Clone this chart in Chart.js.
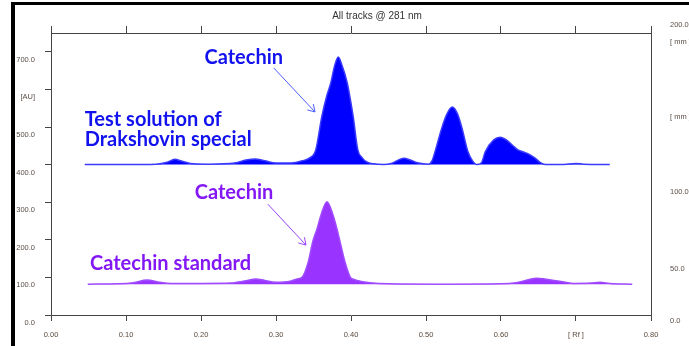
<!DOCTYPE html>
<html>
<head>
<meta charset="utf-8">
<script src="https://cdn.jsdelivr.net/npm/chart.js@4.4.0/dist/chart.umd.min.js"></script>
<style>
    body { margin: 0; background: #fff; }
</style>
</head>
<body>
<canvas id="chart" width="689" height="346"></canvas>
<script>
/* ------------------------------- Data -------------------------------*/

// Test solution of Drakshovin special (Rf / AU)
var sampleRf = [0.045, 0.10, 0.14, 0.155, 0.165, 0.175, 0.19, 0.21, 0.245, 0.26, 0.272, 0.285, 0.30, 0.32,
    0.335, 0.345, 0.353, 0.361, 0.368, 0.373, 0.378, 0.383, 0.388, 0.395, 0.399, 0.403, 0.409, 0.415,
    0.421, 0.43, 0.443, 0.455, 0.465, 0.471, 0.478, 0.49, 0.503, 0.508, 0.512, 0.521, 0.528, 0.535,
    0.542, 0.548, 0.556, 0.562, 0.568, 0.574, 0.579, 0.59, 0.599, 0.607, 0.615, 0.622, 0.629, 0.637,
    0.645, 0.652, 0.659, 0.68, 0.70, 0.71, 0.745];
var sampleAU = [400, 400, 401, 406, 414, 409, 402, 401, 404, 412, 415, 410, 404, 404,
    410, 418, 439, 527, 585, 617, 662, 686, 664, 617, 575, 527, 440, 418,
    407, 402, 400, 404, 414, 417, 413, 404, 401, 410, 434, 497, 535, 553,
    535, 497, 434, 410, 400, 405, 434, 465, 473, 466, 452, 440, 434, 428,
    418, 406, 400, 400, 403, 401, 400];

// Catechin standard (Rf / AU)
var standardRf = [0.049, 0.09, 0.11, 0.128, 0.145, 0.16, 0.20, 0.24, 0.26, 0.273, 0.285, 0.30, 0.319,
    0.328, 0.335, 0.343, 0.349, 0.355, 0.36, 0.368, 0.376, 0.381, 0.386, 0.392, 0.399, 0.405, 0.412,
    0.425, 0.45, 0.52, 0.60, 0.62, 0.635, 0.648, 0.66, 0.68, 0.696, 0.72, 0.732, 0.745, 0.775];
var standardAU = [82, 83, 86, 93, 87, 84, 84, 85, 91, 96, 92, 87, 90,
    96, 101, 141, 195, 231, 266, 301, 266, 231, 190, 141, 101, 94, 90,
    86, 83, 82, 83, 86, 93, 98, 95, 89, 84, 85, 87, 84, 82];

var sampleBase = 400;
var standardBase = 82;

var rfTicks = [0, 0.1, 0.2, 0.3, 0.4, 0.5, 0.6, 0.7, 0.8];
var auTicks = [0, 100, 200, 300, 400, 500, 600, 700];
var mmTickLabels = ['0.0', '50.0', '100.0', '[ mm ]', '[ mm ]', '200.0'];
var mmTickPos = [-16, 122, 327, 527, 726, 771];          // where the mm labels sit on the AU scale

/* ------------------------------- Notes -------------------------------*/

var notes = [
    { text: 'Catechin', rf: 0.257, au: 684, color: '#1212ee', align: 'center' },
    { text: 'Test solution of', rf: 0.045, au: 521, color: '#1212ee', align: 'left' },
    { text: 'Drakshovin special', rf: 0.045, au: 466, color: '#1212ee', align: 'left' },
    { text: 'Catechin', rf: 0.244, au: 327, color: '#8417f5', align: 'center' },
    { text: 'Catechin standard', rf: 0.052, au: 138, color: '#8417f5', align: 'left' }
];
var arrows = [
    { from: [0.297, 657], to: [0.352, 540], color: '#4b5cff' },
    { from: [0.289, 295], to: [0.340, 186], color: '#9a45ff' }
];

function drawArrow(ctx, x1, y1, x2, y2, color) {
    var ang = Math.atan2(y2 - y1, x2 - x1);
    ctx.strokeStyle = color;
    ctx.lineWidth = 1;
    ctx.beginPath();
    ctx.moveTo(x1, y1);
    ctx.lineTo(x2, y2);
    [-0.55, 0.55].forEach(function (d) {
        ctx.moveTo(x2, y2);
        ctx.lineTo(x2 - 8 * Math.cos(ang + d), y2 - 8 * Math.sin(ang + d));
    });
    ctx.stroke();
}

var overlay = {
    id: 'overlay',
    beforeDraw: function (chart) {                       // black frame of the screenshot
        var ctx = chart.ctx;
        ctx.save();
        ctx.fillStyle = '#000';
        ctx.fillRect(11, 2, 678, 3);
        ctx.fillRect(11, 2, 4, 344);
        ctx.restore();
    },
    afterDraw: function (chart) {
        var ctx = chart.ctx;
        var xs = chart.scales.x, ys = chart.scales.y;
        ctx.save();

        ctx.fillStyle = '#333';
        ctx.font = '10px "Liberation Sans"';
        ctx.textAlign = 'center';
        ctx.textBaseline = 'middle';
        ctx.fillText('All tracks @ 281 nm', 377, 16);

        ctx.font = 'bold 20px Lato';
        notes.forEach(function (n) {
            ctx.fillStyle = n.color;
            ctx.textAlign = n.align;
            ctx.fillText(n.text, xs.getPixelForValue(n.rf), ys.getPixelForValue(n.au));
        });

        arrows.forEach(function (a) {
            drawArrow(ctx, xs.getPixelForValue(a.from[0]), ys.getPixelForValue(a.from[1]),
                xs.getPixelForValue(a.to[0]), ys.getPixelForValue(a.to[1]), a.color);
        });
        ctx.restore();
    }
};

/* ------------------------------- Chart -------------------------------*/

function toPoints(xs, ys) {
    return xs.map(function (x, i) { return { x: x, y: ys[i] }; });
}

var axisColor = '#444';
var labelFont = { family: '"Liberation Sans"', size: 7.5 };

new Chart(document.getElementById('chart'), {
    type: 'line',
    data: {
        datasets: [{
            data: toPoints(sampleRf, sampleAU),
            borderColor: '#3a3aff',
            backgroundColor: '#0000ff',
            borderWidth: 1.5,
            fill: { value: sampleBase },
            cubicInterpolationMode: 'monotone',
            pointRadius: 0
        }, {
            data: toPoints(standardRf, standardAU),
            borderColor: '#a04cff',
            backgroundColor: '#9933ff',
            borderWidth: 1.5,
            fill: { value: standardBase },
            cubicInterpolationMode: 'monotone',
            pointRadius: 0
        }]
    },
    options: {
        responsive: false,
        animation: false,
        devicePixelRatio: 1,
        layout: { padding: 0 },
        plugins: { legend: { display: false }, tooltip: { enabled: false } },
        scales: {
            x: {
                type: 'linear', position: 'bottom', min: 0, max: 0.8,
                afterBuildTicks: function (axis) { axis.ticks = rfTicks.map(function (v) { return { value: v }; }); },
                afterFit: function (axis) { axis.height = 31; },
                grid: { drawOnChartArea: false, color: axisColor, tickLength: 6 },
                border: { color: axisColor },
                ticks: {
                    color: '#5b4a3c', font: labelFont, padding: 9, maxRotation: 0, autoSkip: false,
                    callback: function (v) { return v === 0.7 ? '[ Rf ]' : v.toFixed(2); }
                }
            },
            xTop: {
                type: 'linear', position: 'top', min: 0, max: 0.8,
                afterBuildTicks: function (axis) { axis.ticks = rfTicks.map(function (v) { return { value: v }; }); },
                afterFit: function (axis) { axis.height = 33; },
                grid: { drawOnChartArea: false, color: axisColor, tickLength: 7 },
                border: { color: axisColor },
                ticks: { display: false }
            },
            y: {
                type: 'linear', position: 'left', min: 0, max: 750,
                afterBuildTicks: function (axis) { axis.ticks = auTicks.map(function (v) { return { value: v }; }); },
                afterFit: function (axis) { axis.width = 51; },
                grid: { drawOnChartArea: false, color: axisColor, tickLength: 6 },
                border: { color: axisColor },
                ticks: {
                    color: '#5b4f48', font: labelFont, padding: 10, labelOffset: 8,
                    callback: function (v) { return v === 600 ? '[AU]' : v.toFixed(1); }
                }
            },
            yR: {
                type: 'linear', position: 'right', min: 0, max: 750,
                afterBuildTicks: function (axis) { axis.ticks = mmTickPos.map(function (v) { return { value: v }; }); },
                afterFit: function (axis) { axis.width = 38; },
                grid: { drawOnChartArea: false, color: 'rgba(0,0,0,0)', tickLength: 6 },
                border: { color: axisColor },
                ticks: {
                    color: '#5b4f48', font: labelFont, padding: 13,
                    callback: function (v, i) { return mmTickLabels[i]; }
                }
            }
        }
    },
    plugins: [overlay]
});
</script>
</body>
</html>
